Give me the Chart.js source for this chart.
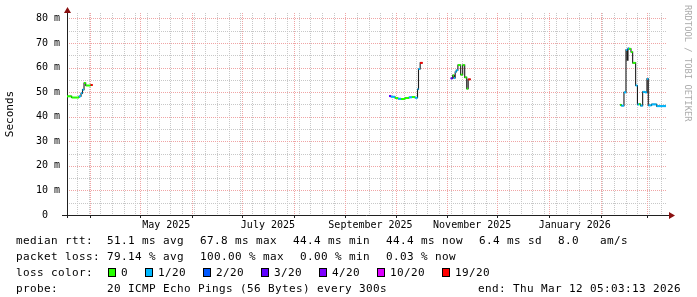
<!DOCTYPE html>
<html><head><meta charset="utf-8">
<script src="https://cdn.jsdelivr.net/npm/chart.js@4.4.1/dist/chart.umd.min.js"></script>
<style>
html,body{margin:0;padding:0;background:#fff;}
#wrap{position:relative;width:697px;height:297px;overflow:hidden;background:#fff;}
#c{position:absolute;left:0;top:0;}
.t{position:absolute;font-family:'DejaVu Sans Mono',monospace;font-size:11px;letter-spacing:0.38px;line-height:11px;white-space:pre;color:#000;}
.box{position:absolute;width:8px;height:8px;box-sizing:border-box;border:1px solid #000;}
#wm{position:absolute;left:692px;top:5px;transform-origin:0 0;transform:rotate(90deg);font-family:'DejaVu Sans Mono',monospace;font-size:8.8px;line-height:9px;white-space:pre;color:#ababab;}
</style>
</head><body>
<div id="wrap">
<canvas id="c" width="697" height="297"></canvas>
<div id="wm">RRDTOOL / TOBI OETIKER</div>
<div id="legend"></div>
</div>
<script>
// ---- data (median RTT in ms; null marks end of a run) ----
const sampleTimes = [
  '2025-03-18T00:00','2025-03-20T19:00','2025-03-25T05:00','2025-03-26T10:00','2025-03-27T07:00',
  '2025-03-28T05:00','2025-03-29T05:00','2025-04-01T05:00','2025-04-02T10:00',
  '2025-09-27T02:00','2025-09-28T07:00','2025-09-30T17:00','2025-10-02T12:00','2025-10-04T07:00',
  '2025-10-06T17:00','2025-10-09T02:00','2025-10-10T22:00','2025-10-12T17:00','2025-10-14T05:00',
  '2025-10-14T19:00','2025-10-15T19:00','2025-10-17T07:00',
  '2025-11-03T02:00','2025-11-04T07:00','2025-11-05T02:00','2025-11-05T19:00','2025-11-06T10:00',
  '2025-11-07T10:00','2025-11-09T02:00','2025-11-10T07:00','2025-11-11T12:00','2025-11-12T17:00',
  '2025-11-13T14:00','2025-11-15T02:00',
  '2026-02-12T14:00','2026-02-13T10:00','2026-02-15T00:00','2026-02-16T05:00','2026-02-17T00:00',
  '2026-02-17T10:00','2026-02-18T00:00','2026-02-19T05:00','2026-02-20T05:00','2026-02-22T00:00',
  '2026-02-23T02:00','2026-02-24T00:00','2026-02-24T22:00','2026-02-26T05:00','2026-02-27T14:00',
  '2026-02-28T19:00','2026-03-01T14:00','2026-03-03T14:00','2026-03-06T14:00','2026-03-12T05:00'
];
const medianRtt = [
  48.3,47.8,48.3,49.5,51.0,53.7,52.7,52.9,null,
  48.4,48.1,47.6,47.3,47.2,47.6,47.9,48.0,47.7,51.2,59.4,61.9,null,
  55.6,56.8,55.8,58.2,58.9,61.0,57.1,61.0,56.0,51.4,55.2,null,
  44.8,44.5,49.9,67.2,63.0,67.8,67.6,66.3,61.9,52.7,45.0,45.1,44.5,50.1,49.9,55.4,44.6,45.0,44.3,null
];
const lossCount = [
  0,0,1,1,1,0,0,19,null,
  3,1,0,1,0,0,1,0,1,1,1,19,null,
  3,0,1,1,1,0,0,0,0,0,19,null,
  0,1,1,1,1,1,0,0,0,1,1,0,1,1,1,1,1,1,1,null
];
const lossLevels = [0,1,2,3,4,10,19];
const lossLabels = ['0','1/20','2/20','3/20','4/20','10/20','19/20'];
const lossColors = ['#26ff00','#00b8ff','#0059ff','#5e00ff','#7e00ff','#dd00ff','#ff0000'];
const yTickValues = [0,10,20,30,40,50,60,70,80];
const xTickLabels = ['May 2025','July 2025','September 2025','November 2025','January 2026'];
const xTickDates = ['2025-05-16T12:00','2025-07-16T12:00','2025-09-16T00:00','2025-11-16T00:00','2026-01-16T12:00'];
const rangeStart = '2025-03-18T00:00';
const rangeEnd = '2026-03-12T05:03';
const yMax = 82.2;

// ---- helpers ----
const toMs = s => Date.parse(s + ':00Z');
const xMin = toMs(rangeStart), xMax = toMs(rangeEnd);
const lossColor = l => lossColors[lossLevels.indexOf(l)] || '#000';

const capPoints = [];
const stepPoints = [];
for (let i = 0; i < sampleTimes.length; i++) {
  const t = toMs(sampleTimes[i]), v = medianRtt[i];
  if (v === null) { stepPoints.push({x:t, y:null}); continue; }
  const tn = toMs(sampleTimes[i+1]);
  capPoints.push({x:t, y:v, loss:lossCount[i]}, {x:tn, y:v, loss:lossCount[i]}, {x:tn, y:null});
  stepPoints.push({x:t, y:v});
  if (medianRtt[i+1] === null) stepPoints.push({x:tn, y:v});
}

// grid positions (month starts & Mondays)
const monthStarts = [];
for (let d = new Date(Date.UTC(2025,3,1)); d.getTime() <= xMax; d.setUTCMonth(d.getUTCMonth()+1)) monthStarts.push(d.getTime());
const weekStarts = [];
for (let t = Date.UTC(2025,2,24); t <= xMax; t += 7*86400000) weekStarts.push(t);

const rrdGrid = {
  id:'rrdGrid',
  beforeDatasetsDraw(chart){
    const {ctx, chartArea:a, scales:{x, y}} = chart;
    ctx.save();
    ctx.lineWidth = 1;
    ctx.setLineDash([1,1]);
    const vline = (px, col) => { const p = Math.round(px)+0.5; ctx.strokeStyle = col; ctx.beginPath(); ctx.moveTo(p, a.top); ctx.lineTo(p, a.bottom); ctx.stroke(); };
    const hline = (py, col) => { const p = Math.round(py)+0.5; ctx.strokeStyle = col; ctx.beginPath(); ctx.moveTo(a.left, p); ctx.lineTo(a.right, p); ctx.stroke(); };
    const minor = 'rgb(200,200,200)', major = 'rgb(240,165,165)';
    weekStarts.forEach(t => vline(x.getPixelForValue(t), minor));
    for (let v = 5; v < yMax; v += 10) hline(y.getPixelForValue(v), minor);
    monthStarts.forEach(t => vline(x.getPixelForValue(t), major));
    yTickValues.forEach(v => { if (v > 0) hline(y.getPixelForValue(v), major); });
    ctx.setLineDash([]);
    // axes
    const x0 = Math.round(a.left)+0.5, y0 = Math.round(a.bottom)+0.5;
    ctx.strokeStyle = '#202020';
    ctx.beginPath();
    ctx.moveTo(a.left-5, y0); ctx.lineTo(a.right+5, y0);
    ctx.moveTo(x0, a.bottom+3); ctx.lineTo(x0, a.top-3);
    monthStarts.forEach(t => { const p = Math.round(x.getPixelForValue(t))+0.5; ctx.moveTo(p, a.bottom); ctx.lineTo(p, a.bottom+3); });
    ctx.stroke();
    ctx.fillStyle = '#8a1010';
    ctx.beginPath();
    ctx.moveTo(a.right+9, y0); ctx.lineTo(a.right+3, y0-3.5); ctx.lineTo(a.right+3, y0+3.5); ctx.closePath(); ctx.fill();
    ctx.beginPath();
    ctx.moveTo(x0, a.top-6); ctx.lineTo(x0-3.5, a.top); ctx.lineTo(x0+3.5, a.top); ctx.closePath(); ctx.fill();
    ctx.restore();
  }
};

const monoFont = {family:"'DejaVu Sans Mono', monospace", size:10};

new Chart(document.getElementById('c'), {
  type:'line',
  data:{datasets:[
    {label:'median rtt loss colour', data:capPoints, borderWidth:2, pointRadius:0, spanGaps:false,
     borderCapStyle:'butt', borderColor:'#000', order:0,
     segment:{borderColor: ctx => lossColor(capPoints[ctx.p0DataIndex].loss)}},
    {label:'median rtt', data:stepPoints, stepped:true, borderColor:'#1c1c1c', borderWidth:1.1,
     pointRadius:0, spanGaps:false, order:1}
  ]},
  options:{
    responsive:false, animation:false, devicePixelRatio:1,
    layout:{padding:{left:0, top:13, right:31, bottom:0}},
    plugins:{legend:{display:false}, tooltip:{enabled:false}},
    scales:{
      x:{type:'linear', min:xMin, max:xMax,
        grid:{display:false, drawTicks:false}, border:{display:false},
        afterBuildTicks: s => { s.ticks = xTickDates.map(d => ({value:toMs(d)})); },
        afterFit: s => { s.height = 82; },
        ticks:{autoSkip:false, maxRotation:0, minRotation:0, padding:4, color:'#000', font:monoFont,
          callback:(v, i) => xTickLabels[i]}},
      y:{type:'linear', min:0, max:yMax,
        grid:{display:false, drawTicks:false}, border:{display:false},
        afterBuildTicks: s => { s.ticks = yTickValues.map(v => ({value:v})); },
        afterFit: s => { s.width = 67; },
        ticks:{padding:7, color:'#000', font:monoFont, callback: v => v === 0 ? '0  ' : v + ' m'},
        title:{display:true, text:'Seconds', color:'#000',
          font:{family:"'DejaVu Sans Mono', monospace", size:11}, padding:{top:4, bottom:0}}}
    }
  },
  plugins:[rrdGrid]
});

// ---- legend text (real text) ----
const lg = document.getElementById('legend');
const put = (x, base, s) => { const d = document.createElement('div'); d.className = 't'; d.style.left = x+'px'; d.style.top = (base-9.3)+'px'; d.textContent = s; lg.appendChild(d); };
const rows = [244, 260, 276, 292];
put(16, rows[0], 'median rtt:');
[[107,'51.1 ms avg'],[200,'67.8 ms max'],[293,'44.4 ms min'],[386,'44.4 ms now'],[479,'6.4 ms sd'],[558,'8.0   am/s']].forEach(p => put(p[0], rows[0], p[1]));
put(16, rows[1], 'packet loss:');
[[107,'79.14 % avg'],[200,'100.00 % max'],[300,'0.00 % min'],[386,'0.03 % now']].forEach(p => put(p[0], rows[1], p[1]));
put(16, rows[2], 'loss color:');
let bx = 108;
lossLabels.forEach((lab, i) => {
  const b = document.createElement('div'); b.className = 'box';
  b.style.left = bx+'px'; b.style.top = (rows[2]-8)+'px'; b.style.background = lossColors[i];
  b.style.height = '9px';
  lg.appendChild(b);
  put(bx+13, rows[2], lab);
  bx += 13 + lab.length*7 + 17;
});
put(16, rows[3], 'probe:');
put(107, rows[3], '20 ICMP Echo Pings (56 Bytes) every 300s');
put(478, rows[3], 'end: Thu Mar 12 05:03:13 2026');
</script>
</body></html>
